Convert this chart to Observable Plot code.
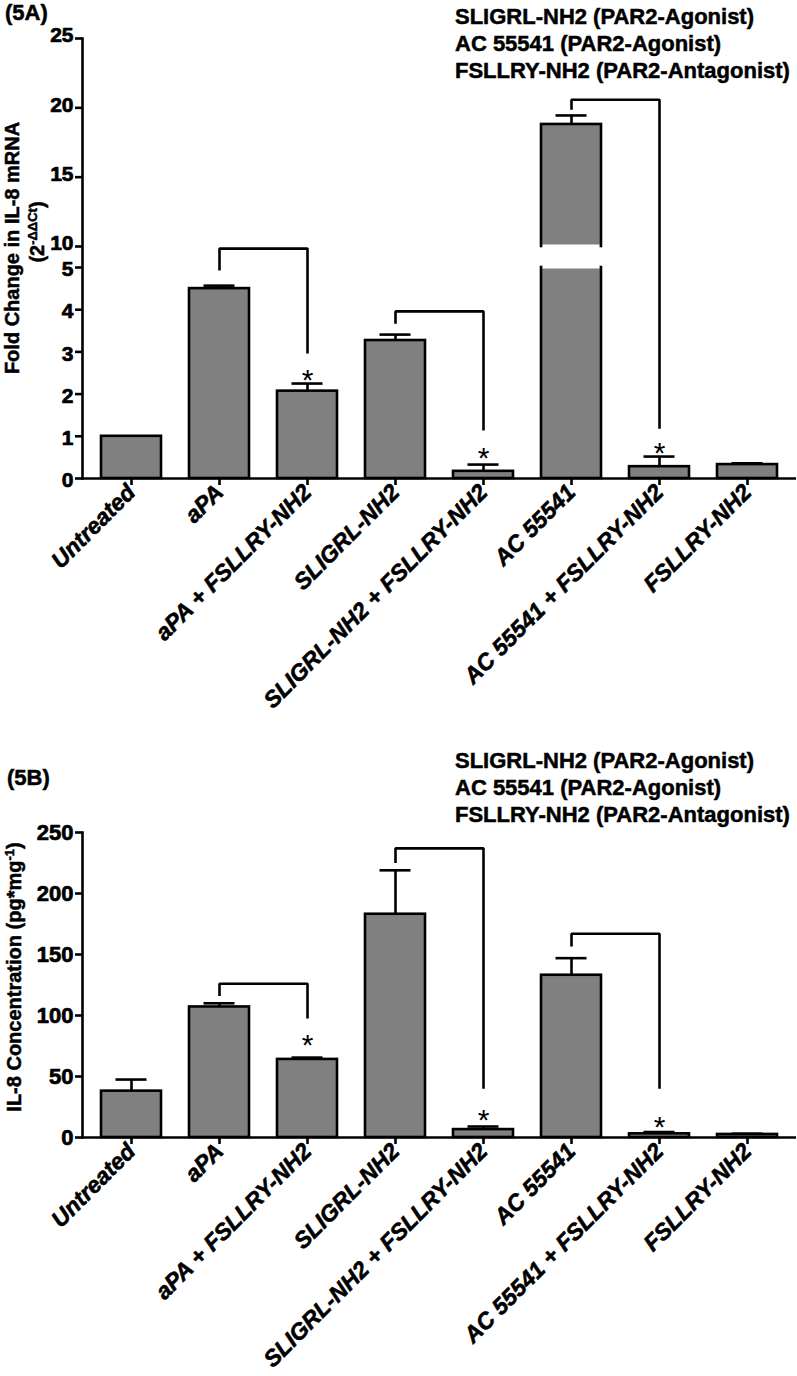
<!DOCTYPE html>
<html>
<head>
<meta charset="utf-8">
<script src="https://cdn.jsdelivr.net/npm/d3@7"></script>
<script src="https://cdn.jsdelivr.net/npm/@observablehq/plot@0.6"></script>
<style>
  body { margin: 0; background: #fff; }
  #wrap { position: relative; width: 797px; height: 1376px; overflow: hidden; font-family: "Liberation Sans", Arial, sans-serif; color: #000; }
  .abs { position: absolute; font-weight: bold; white-space: nowrap; -webkit-text-stroke: 0.5px #000; }
  .panel { position: absolute; left: 0; }
  .vlab { transform: translate(-50%, -50%) rotate(-90deg); transform-origin: center; line-height: 1; }
  sup { font-size: 0.65em; vertical-align: 0.55em; line-height: 0; }
</style>
</head>
<body>
<div id="wrap"></div>
<script>
// ---------------- data ----------------
const categories = ["Untreated", "aPA", "aPA + FSLLRY-NH2", "SLIGRL-NH2", "SLIGRL-NH2 + FSLLRY-NH2", "AC 55541", "AC 55541 + FSLLRY-NH2", "FSLLRY-NH2"];

// (5A) fold change in IL-8 mRNA
const mrnaMean = [1.0, 4.5, 2.07, 3.27, 0.17, 18.8, 0.28, 0.33];
const mrnaErr  = [0, 0.07, 0.18, 0.14, 0.16, 0.65, 0.24, 0.03];
const mrnaTicksLow = [0, 1, 2, 3, 4, 5];
const mrnaTicksHigh = [10, 15, 20, 25];
const mrnaBreak = [5, 10];          // axis break between these values
const mrnaTop = 25;
// brackets: from, to, left tip, top, right end
const mrnaBrackets = [
  ["aPA", "aPA + FSLLRY-NH2", 4.93, 9.5, 2.96],
  ["SLIGRL-NH2", "SLIGRL-NH2 + FSLLRY-NH2", 3.67, 3.96, 1.14],
  ["AC 55541", "AC 55541 + FSLLRY-NH2", 19.86, 20.58, 1.18]
];
const mrnaStars = [["aPA + FSLLRY-NH2", 2.51], ["SLIGRL-NH2 + FSLLRY-NH2", 0.66], ["AC 55541 + FSLLRY-NH2", 0.78]];

// (5B) IL-8 concentration
const il8Mean = [38, 107, 64, 183, 6.5, 133, 3, 2.5];
const il8Err  = [9.5, 3, 1.5, 36, 2.5, 14, 1.5, 0.6];
const il8Ticks = [0, 50, 100, 150, 200, 250];
const il8Brackets = [
  ["aPA", "aPA + FSLLRY-NH2", 116, 126, 97.5],
  ["SLIGRL-NH2", "SLIGRL-NH2 + FSLLRY-NH2", 225, 237, 40],
  ["AC 55541", "AC 55541 + FSLLRY-NH2", 156.6, 167, 40]
];
const il8Stars = [["aPA + FSLLRY-NH2", 82], ["SLIGRL-NH2 + FSLLRY-NH2", 20.5], ["AC 55541 + FSLLRY-NH2", 14.7]];

// texts
const panelTitles = ["(5A)", "(5B)"];
const legendLines = ["SLIGRL-NH2 (PAR2-Agonist)", "AC 55541 (PAR2-Agonist)", "FSLLRY-NH2 (PAR2-Antagonist)"];
const yTitleA = ["Fold Change in IL-8 mRNA", "(2<sup>-ΔΔCt</sup>)"];
const yTitleB = ["IL-8 Concentration (pg*mg<sup>-1</sup>)"];

// ---------------- helpers ----------------
const FONT = "'Liberation Sans', Arial, sans-serif";
const BAR_FILL = "#808080";
const SW = 2.6;
const yTickStyle = {tickSize: 7, tickFormat: () => "", label: null, strokeWidth: SW};
const yLabelStyle = {tickSize: 0, tickPadding: 9, fontSize: 21, fontWeight: "bold", label: null, textStroke: "#000", textStrokeWidth: 0.7};

function errRows(means, errs) {
  return categories.map((c, i) => ({cat: c, mean: means[i], hi: means[i] + errs[i], e: errs[i]})).filter(d => d.e > 0);
}
function bracketRows(list) {
  const rows = [];
  list.forEach(([a, b, tip, top, end], k) => {
    rows.push({id: k, cat: a, v: tip}, {id: k, cat: a, v: top}, {id: k, cat: b, v: top}, {id: k, cat: b, v: end});
  });
  return rows;
}
function starRows(list) { return list.map(([c, v]) => ({cat: c, v})); }

function commonMarks(errs, brackets, stars) {
  return [
    Plot.ruleX(errs, {x: "cat", y1: "mean", y2: "hi", stroke: "#000", strokeWidth: SW}),
    Plot.tickY(errs, {x: "cat", y: "hi", stroke: "#000", strokeWidth: SW, insetLeft: 14.5, insetRight: 14.5}),
    Plot.line(bracketRows(brackets), {x: "cat", y: "v", z: "id", stroke: "#000", strokeWidth: SW, strokeLinejoin: "miter", strokeLinecap: "butt"}),
    Plot.text(starRows(stars), {x: "cat", y: "v", text: () => "*", fontSize: 30, fontWeight: "normal", fontFamily: FONT, dy: 8, fill: "#000"}),
    Plot.axisX({tickSize: 7, tickPadding: 3, tickRotate: -45, fontSize: 23, fontWeight: "bold", fontStyle: "italic", label: null, strokeWidth: SW, textStroke: "#000", textStrokeWidth: 0.6}),
    Plot.ruleY([0], {stroke: "#000", strokeWidth: SW}),
    Plot.frame({anchor: "left", stroke: "#000", strokeWidth: SW})
  ];
}

const wrap = document.getElementById("wrap");
const W = 797;

// ---------------- panel A ----------------
const HA = 740;
const segA = [];
categories.forEach((c, i) => {
  const v = mrnaMean[i];
  segA.push({cat: c, y1: 0, y2: Math.min(v, mrnaBreak[0])});
  if (v > mrnaBreak[1]) segA.push({cat: c, y1: mrnaBreak[1], y2: v});
});
const gapA = categories.filter((c, i) => mrnaMean[i] > mrnaBreak[1]).map(c => ({cat: c, y1: mrnaBreak[0], y2: mrnaBreak[1]}));

const plotA = Plot.plot({
  width: W, height: HA,
  marginLeft: 82, marginRight: 1, marginTop: 38, marginBottom: HA - 478,
  style: {fontFamily: FONT, color: "#000", background: "transparent", overflow: "visible"},
  x: {domain: categories, paddingInner: 0.315, paddingOuter: 0.17, label: null},
  y: {type: "linear", domain: [0, mrnaBreak[0], mrnaBreak[1], mrnaTop], range: [478, 267, 246, 38], label: null},
  marks: [
    Plot.rectY(segA, {x: "cat", y1: "y1", y2: "y2", fill: BAR_FILL, stroke: "#000", strokeWidth: SW}),
    Plot.rectY(gapA, {x: "cat", y1: "y1", y2: "y2", fill: "#fff", insetLeft: 1.4, insetRight: 1.4, insetTop: -1.6, insetBottom: -1.6}),
    Plot.axisY([...mrnaTicksLow, ...mrnaTicksHigh], yTickStyle),
    Plot.axisY(mrnaTicksLow, {...yLabelStyle, dy: 2}),
    Plot.axisY(mrnaTicksHigh, {...yLabelStyle, dy: -3}),
    ...commonMarks(errRows(mrnaMean, mrnaErr), mrnaBrackets, mrnaStars)
  ]
});
plotA.classList.add("panel");
plotA.style.top = "0px";
wrap.appendChild(plotA);

// ---------------- panel B ----------------
const TB = 740, HB = 636;
const barsB = categories.map((c, i) => ({cat: c, v: il8Mean[i]}));
const plotB = Plot.plot({
  width: W, height: HB,
  marginLeft: 82, marginRight: 1, marginTop: 832 - TB, marginBottom: TB + HB - 1137,
  style: {fontFamily: FONT, color: "#000", background: "transparent", overflow: "visible"},
  x: {domain: categories, paddingInner: 0.315, paddingOuter: 0.17, label: null},
  y: {domain: [0, 250], label: null},
  marks: [
    Plot.rectY(barsB, {x: "cat", y: "v", fill: BAR_FILL, stroke: "#000", strokeWidth: SW}),
    Plot.axisY(il8Ticks, yTickStyle),
    Plot.axisY(il8Ticks, {...yLabelStyle, fontSize: 22}),
    ...commonMarks(errRows(il8Mean, il8Err), il8Brackets, il8Stars)
  ]
});
plotB.classList.add("panel");
plotB.style.top = TB + "px";
wrap.appendChild(plotB);

// ---------------- HTML text ----------------
function addDiv(html, css, cls) {
  const d = document.createElement("div");
  d.className = "abs" + (cls ? " " + cls : "");
  d.innerHTML = html;
  Object.assign(d.style, css);
  wrap.appendChild(d);
  return d;
}
addDiv(panelTitles[0], {left: "5px", top: "0px", fontSize: "22px"});
addDiv(panelTitles[1], {left: "7px", top: "765px", fontSize: "22px"});
const legA = [17, 44, 71], legB = [761, 788, 815];
legendLines.forEach((t, i) => {
  addDiv(t, {left: "455px", top: (legA[i] - 13) + "px", fontSize: "22px", lineHeight: "26px"});
  addDiv(t, {left: "455px", top: (legB[i] - 13) + "px", fontSize: "22px", lineHeight: "26px"});
});
addDiv(yTitleA[0], {left: "12px", top: "248px", fontSize: "20px"}, "vlab");
addDiv(yTitleA[1], {left: "37px", top: "232px", fontSize: "20px"}, "vlab");
addDiv(yTitleB[0], {left: "14px", top: "977px", fontSize: "20px"}, "vlab");
</script>
</body>
</html>
